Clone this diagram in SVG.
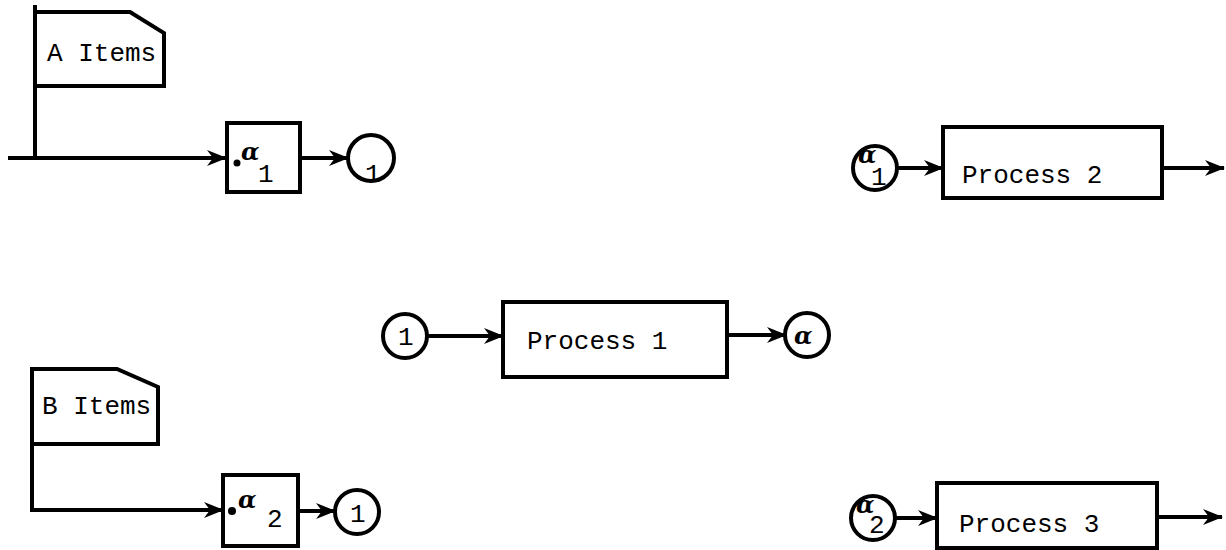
<svg xmlns="http://www.w3.org/2000/svg" width="1226" height="550" viewBox="0 0 1226 550">
<defs>
<style>
.ln{fill:none;stroke:#000;stroke-width:4;stroke-linejoin:miter;stroke-linecap:butt}
.bx{fill:#fff;stroke:#000;stroke-width:4}
.t{font-family:"Liberation Mono","DejaVu Sans Mono",monospace;font-size:26px;fill:#000}
.a{font-family:"DejaVu Serif","Liberation Serif",serif;font-size:24px;font-weight:bold;font-style:italic;fill:#000}
</style>
<marker id="ar" markerWidth="22" markerHeight="16" refX="19" refY="8" orient="auto" markerUnits="userSpaceOnUse">
<path d="M0,0 L20,8 L0,16 L6,8 Z" fill="#000"/>
</marker>
</defs>
<rect width="1226" height="550" fill="#fff"/>
<g id="connectors">
<path class="ln" d="M35,5 V158"/>
<path class="ln" d="M8,158 H226" marker-end="url(#ar)"/>
<path class="ln" d="M300,158 H348" marker-end="url(#ar)"/>
<path class="ln" d="M32,369 V510 H223" marker-end="url(#ar)"/>
<path class="ln" d="M298,511 H335" marker-end="url(#ar)"/>
<path class="ln" d="M428,336 H503" marker-end="url(#ar)"/>
<path class="ln" d="M727,335 H786" marker-end="url(#ar)"/>
<path class="ln" d="M898,168 H943" marker-end="url(#ar)"/>
<path class="ln" d="M1162,168 H1224" marker-end="url(#ar)"/>
<path class="ln" d="M896,518 H937" marker-end="url(#ar)"/>
<path class="ln" d="M1157,517 H1222" marker-end="url(#ar)"/>
</g>
<g id="a-items">
<path class="bx" d="M35,12 H130 L164,33 V86 H35 Z"/>
<text class="t" x="47" y="61">A Items</text>
</g>
<g id="b-items">
<path class="bx" d="M32,369 H117 L158,387 V444 H32 Z"/>
<text class="t" x="42" y="414">B Items</text>
</g>
<g id="alpha1-box">
<rect class="bx" x="227" y="123" width="73" height="69"/>
<circle cx="237" cy="163" r="3.5" fill="#000"/>
<text class="a" x="241" y="160">α</text>
<text class="t" x="258" y="182">1</text>
</g>
<g id="alpha2-box">
<rect class="bx" x="223" y="475" width="75" height="71"/>
<circle cx="232" cy="511" r="4" fill="#000"/>
<text class="a" x="238" y="508">α</text>
<text class="t" x="267" y="527">2</text>
</g>
<g id="conn-a1">
<circle class="bx" cx="371" cy="158" r="23"/>
<text class="t" x="365" y="182" font-size="22">1</text>
</g>
<g id="conn-b1">
<circle class="bx" cx="357" cy="512" r="22"/>
<text class="t" x="350" y="522" font-size="22">1</text>
</g>
<g id="conn-p1-in">
<circle class="bx" cx="405" cy="336" r="22"/>
<text class="t" x="398" y="345" font-size="22">1</text>
</g>
<g id="process1">
<rect class="bx" x="503" y="302" width="224" height="75"/>
<text class="t" x="527" y="349">Process 1</text>
</g>
<g id="conn-p1-out">
<circle class="bx" cx="807" cy="335" r="22"/>
<text class="a" x="794" y="344">α</text>
</g>
<g id="conn-p2-in">
<circle class="bx" cx="875" cy="168" r="22"/>
<text class="a" x="858" y="163" font-size="15">α</text>
<text class="t" x="871" y="185" font-size="20">1</text>
</g>
<g id="process2">
<rect class="bx" x="943" y="127" width="219" height="71"/>
<text class="t" x="962" y="183">Process 2</text>
</g>
<g id="conn-p3-in">
<circle class="bx" cx="873" cy="518" r="22"/>
<text class="a" x="856" y="513" font-size="15">α</text>
<text class="t" x="869" y="533" font-size="20">2</text>
</g>
<g id="process3">
<rect class="bx" x="937" y="483" width="220" height="65"/>
<text class="t" x="959" y="532">Process 3</text>
</g>
</svg>
